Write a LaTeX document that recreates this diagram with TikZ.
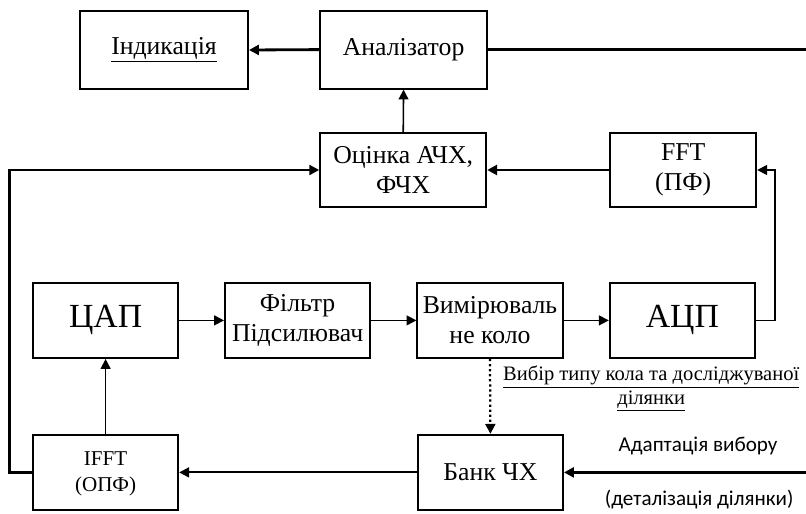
\documentclass[tikz,border=0pt]{standalone}
\usepackage{fontspec}
\setmainfont{Liberation Serif}
\newfontfamily\calfont{Carlito}
\usetikzlibrary{arrows.meta}

\begin{document}
\begin{tikzpicture}[
    blok/.style={draw,line width=1.4pt,minimum width=3.63cm,minimum height=1.88cm,inner sep=0pt,align=center,font=\fontsize{18.3}{21.3}\selectfont},
    velyk/.style={font=\fontsize{24}{27}\selectfont},
    strilka/.style={line width=1.1pt,-{Triangle[length=7pt,width=7pt]}},
    tovsta/.style={line width=2pt,-{Triangle[length=7pt,width=7pt]}}]
    \useasboundingbox (0,0) rectangle (20.15,-12.85);
    % verkhnii riad
    \node[blok,minimum width=4.2cm,minimum height=1.95cm] (ind) at (4.1,-1.25) {\underline{Індикація}};
    \node[blok,minimum width=4.18cm,minimum height=1.95cm] (an) at (10.09,-1.24) {Аналізатор};
    \node[blok,minimum width=4.15cm,minimum height=1.85cm] (ots) at (10.08,-4.25) {Оцінка АЧХ,\\ФЧХ};
    \node[blok,minimum width=3.65cm,minimum height=1.85cm] (fft) at (17.08,-4.25) {FFT\\(ПФ)};
    % seredniy riad
    \node[blok,velyk] (tsap) at (2.64,-8.01) {ЦАП};
    \node[blok] (filtr) at (7.44,-8.01) {Фільтр\\Підсилювач};
    \node[blok] (vymir) at (12.25,-8.01) {Вимірюваль\\не коло};
    \node[blok,velyk] (atsp) at (17.06,-8.01) {АЦП};
    % nyzhniy riad
    \node[blok,font=\fontsize{15}{18.5}\selectfont] (ifft) at (2.64,-11.81) {\\[-6pt]IFFT\\(ОПФ)};
    \node[blok] (bank) at (12.26,-11.81) {Банк ЧХ};
    \coordinate (pravo) at (20.15,-1.24);
    \coordinate (vkhid) at (20.15,-11.81);
    % pidpysy
    \node[font=\fontsize{14.6}{16.4}\selectfont,align=center,anchor=north,inner sep=0pt] (vybir) at (16.28,-9.15) {\underline{Вибір типу кола та досліджуваної}\\\underline{ділянки}};
    \node[font=\calfont\fontsize{15}{18}\selectfont] (adapt) at (17.45,-11.15) {Адаптація вибору};
    \node[font=\calfont\fontsize{15}{18}\selectfont] (detal) at (17.48,-12.5) {(деталізація ділянки)};
    % zviazky
    \draw[tovsta] (an.west) -- (ind.east);
    \draw[line width=2pt] (an.east) -- (pravo);
    \draw[strilka] (ots.north) -- (an.south);
    \draw[tovsta] (fft.west) -- (ots.east);
    \draw[tovsta] (ifft.west) -- ++(-0.57,0) |- (ots.west);
    \draw[strilka] (atsp.east) -- ++(0.47,0) |- (fft.east);
    \draw[strilka] (tsap.east) -- (filtr.west);
    \draw[strilka] (filtr.east) -- (vymir.west);
    \draw[strilka] (vymir.east) -- (atsp.west);
    \draw[strilka] (ifft.north) -- (tsap.south);
    \draw[line width=1.4pt,-{Triangle[length=7pt,width=7pt]}] (bank.west) -- (ifft.east);
    \draw[tovsta] (vkhid) -- (bank.east);
    \draw[line width=1.6pt,dash pattern=on 1.6pt off 2pt,-{Triangle[length=7pt,width=7pt]}] (vymir.south) -- (bank.north);
\end{tikzpicture}
\end{document}
